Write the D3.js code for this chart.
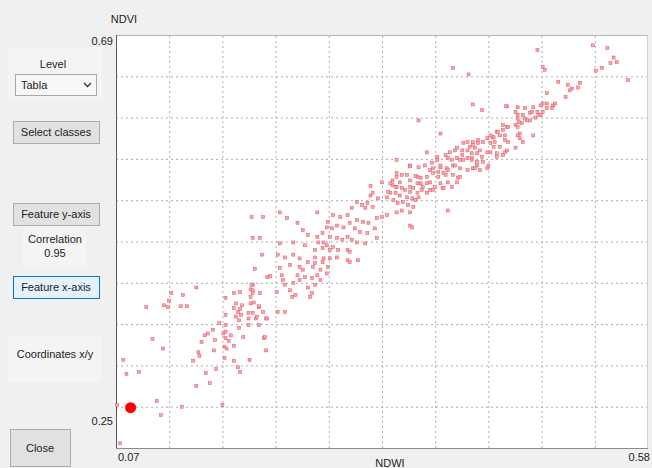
<!DOCTYPE html>
<html>
<head>
<meta charset="utf-8">
<script src="https://cdn.jsdelivr.net/npm/d3@7"></script>
<style>
  body { margin: 0; background: #f0f0f0; }
  svg { display: block; font-family: "Liberation Sans", Arial, sans-serif; }
</style>
</head>
<body>
<svg id="chart" width="652" height="468"></svg>
<script>
// axis labels and tick labels
const xLabel = "NDWI"
const yLabel = "NDVI"
const xTickLabels = ["0.07", "0.58"]
const yTickLabels = ["0.69", "0.25"]
const xDomain = [0.07, 0.58]
const yDomain = [0.25, 0.69]
const gridDivisions = 10
const correlation = "0.95"
const levelValue = "Tabla"

// selected (highlighted) point
const selected = [0.084, 0.293]

// NDWI / NDVI pairs
const points = [
  [0.147,0.421],[0.123,0.415],[0.134,0.413],[0.121,0.407],[0.099,0.400],[0.116,0.402],[0.120,0.400],
  [0.132,0.401],[0.138,0.401],[0.183,0.415],[0.189,0.416],[0.201,0.424],[0.199,0.419],[0.201,0.415],
  [0.208,0.415],[0.175,0.410],[0.185,0.404],[0.191,0.402],[0.199,0.404],[0.202,0.405],[0.207,0.400],
  [0.183,0.399],[0.187,0.395],[0.189,0.398],[0.175,0.392],[0.185,0.390],[0.190,0.392],[0.197,0.394],
  [0.201,0.394],[0.211,0.395],[0.197,0.388],[0.204,0.388],[0.214,0.388],[0.188,0.386],[0.169,0.383],
  [0.175,0.381],[0.197,0.381],[0.207,0.381],[0.188,0.378],[0.163,0.376],[0.158,0.372],[0.155,0.370],
  [0.173,0.372],[0.175,0.374],[0.180,0.370],[0.105,0.366],[0.115,0.356],[0.152,0.363],[0.165,0.365],
  [0.178,0.364],[0.175,0.367],[0.192,0.368],[0.212,0.367],[0.174,0.358],[0.176,0.356],[0.183,0.359],
  [0.164,0.354],[0.149,0.352],[0.150,0.348],[0.214,0.354],[0.144,0.343],[0.174,0.346],[0.183,0.343],
  [0.198,0.344],[0.077,0.344],[0.156,0.330],[0.166,0.334],[0.187,0.336],[0.189,0.331],[0.080,0.329],
  [0.092,0.331],[0.147,0.316],[0.160,0.319],[0.109,0.300],[0.133,0.294],[0.172,0.296],[0.113,0.285],
  [0.074,0.255],[0.071,0.296],
  [0.314,0.519],[0.321,0.516],[0.330,0.517],[0.333,0.522],[0.301,0.512],[0.306,0.509],[0.311,0.511],
  [0.316,0.507],[0.296,0.506],[0.309,0.506],[0.263,0.501],[0.278,0.498],[0.285,0.496],[0.292,0.498],
  [0.301,0.493],[0.307,0.491],[0.312,0.490],[0.320,0.495],[0.325,0.496],[0.330,0.498],[0.227,0.501],
  [0.211,0.496],[0.200,0.496],[0.244,0.490],[0.234,0.495],[0.273,0.491],[0.272,0.485],[0.277,0.484],
  [0.282,0.487],[0.288,0.485],[0.294,0.490],[0.299,0.484],[0.304,0.480],[0.311,0.479],[0.318,0.484],
  [0.352,0.487],[0.249,0.482],[0.254,0.477],[0.263,0.475],[0.268,0.479],[0.275,0.475],[0.282,0.474],
  [0.287,0.472],[0.292,0.475],[0.296,0.472],[0.301,0.469],[0.309,0.468],[0.320,0.474],[0.208,0.474],
  [0.201,0.474],[0.227,0.468],[0.225,0.456],[0.240,0.469],[0.251,0.466],[0.264,0.469],[0.269,0.469],
  [0.272,0.466],[0.278,0.464],[0.283,0.461],[0.292,0.461],[0.294,0.459],[0.261,0.461],[0.268,0.463],
  [0.275,0.461],[0.210,0.456],[0.232,0.453],[0.240,0.456],[0.246,0.452],[0.261,0.453],[0.269,0.452],
  [0.275,0.452],[0.282,0.453],[0.292,0.450],[0.294,0.448],[0.302,0.450],[0.254,0.448],[0.261,0.447],
  [0.268,0.448],[0.273,0.443],[0.227,0.442],[0.237,0.445],[0.246,0.443],[0.249,0.440],[0.259,0.443],
  [0.266,0.440],[0.263,0.434],[0.203,0.441],[0.215,0.432],[0.218,0.433],[0.229,0.434],[0.230,0.429],
  [0.232,0.424],[0.244,0.434],[0.246,0.429],[0.251,0.432],[0.258,0.431],[0.266,0.429],[0.272,0.436],
  [0.240,0.426],[0.254,0.421],[0.261,0.424],[0.200,0.424],[0.201,0.418],[0.199,0.411],[0.224,0.416],
  [0.237,0.418],[0.258,0.415],[0.256,0.411],[0.239,0.411],[0.242,0.413],[0.207,0.401],[0.225,0.395],
  [0.232,0.395],[0.205,0.390],[0.215,0.388],[0.213,0.368],
  [0.412,0.616],[0.421,0.610],[0.445,0.614],[0.455,0.613],[0.462,0.612],[0.467,0.607],[0.474,0.608],
  [0.479,0.617],[0.489,0.615],[0.483,0.612],[0.488,0.612],[0.477,0.605],[0.460,0.605],[0.455,0.605],
  [0.360,0.599],[0.445,0.592],[0.453,0.594],[0.456,0.597],[0.462,0.601],[0.467,0.599],[0.470,0.583],
  [0.457,0.585],[0.455,0.583],[0.460,0.576],[0.435,0.587],[0.438,0.583],[0.431,0.581],[0.426,0.580],
  [0.381,0.585],[0.407,0.576],[0.412,0.576],[0.417,0.575],[0.422,0.576],[0.429,0.575],[0.433,0.576],
  [0.446,0.576],[0.453,0.570],[0.397,0.570],[0.402,0.567],[0.409,0.571],[0.414,0.570],[0.419,0.567],
  [0.368,0.565],[0.390,0.565],[0.395,0.567],[0.429,0.565],[0.435,0.564],[0.441,0.562],[0.443,0.565],
  [0.378,0.560],[0.386,0.562],[0.388,0.559],[0.397,0.559],[0.403,0.557],[0.411,0.559],[0.416,0.555],
  [0.339,0.557],[0.352,0.551],[0.360,0.549],[0.366,0.551],[0.373,0.554],[0.381,0.549],[0.387,0.548],
  [0.393,0.551],[0.400,0.548],[0.407,0.546],[0.412,0.548],[0.419,0.546],[0.426,0.548],[0.349,0.541],
  [0.359,0.539],[0.368,0.539],[0.374,0.543],[0.379,0.539],[0.386,0.541],[0.398,0.538],[0.397,0.533],
  [0.339,0.539],[0.335,0.535],[0.342,0.533],[0.352,0.535],[0.362,0.532],[0.371,0.533],[0.381,0.532],
  [0.363,0.525],[0.374,0.525],[0.383,0.527],[0.335,0.530],[0.339,0.528],[0.344,0.527],[0.347,0.525],
  [0.352,0.523],[0.355,0.527],[0.359,0.522],[0.338,0.522],[0.342,0.519],[0.349,0.517],[0.354,0.516],
  [0.357,0.514],[0.360,0.517],[0.336,0.514],[0.340,0.511],[0.345,0.512],[0.350,0.509],[0.355,0.507],
  [0.344,0.503],[0.352,0.501],[0.339,0.501],[0.368,0.522],[0.388,0.503],[0.354,0.485],
  [0.474,0.674],[0.527,0.679],[0.541,0.676],[0.547,0.666],[0.550,0.661],[0.544,0.660],[0.536,0.655],
  [0.530,0.652],[0.561,0.642],[0.479,0.656],[0.481,0.653],[0.494,0.640],[0.503,0.637],[0.507,0.633],
  [0.515,0.639],[0.513,0.634],[0.505,0.631],[0.483,0.628],[0.501,0.624],[0.444,0.614],[0.470,0.613],
  [0.477,0.615],[0.483,0.617],[0.491,0.617],[0.453,0.608],[0.469,0.608],[0.472,0.602],[0.475,0.605],
  [0.479,0.608],[0.455,0.601],[0.464,0.599],[0.441,0.594],[0.446,0.592],[0.455,0.592],[0.459,0.596],
  [0.443,0.583],[0.457,0.580],
  [0.393,0.655],[0.408,0.648],[0.403,0.575],[0.412,0.573],[0.417,0.578],[0.429,0.583],[0.432,0.581],
  [0.436,0.587],[0.441,0.589],[0.443,0.578],[0.438,0.571],[0.432,0.571],[0.402,0.562],[0.407,0.567],
  [0.411,0.564],[0.416,0.564],[0.421,0.560],[0.426,0.565],[0.392,0.557],[0.395,0.551],[0.400,0.557],
  [0.407,0.559],[0.411,0.557],[0.416,0.551],[0.422,0.555],[0.427,0.551],[0.435,0.560],[0.445,0.567],
  [0.378,0.557],[0.381,0.551],[0.374,0.548],[0.379,0.544],[0.384,0.543],[0.388,0.546],[0.393,0.541],
  [0.352,0.550],[0.371,0.546],[0.400,0.539],[0.414,0.548],[0.314,0.529],[0.325,0.533],[0.339,0.543],
  [0.344,0.541],[0.357,0.540],[0.362,0.538],[0.333,0.532],[0.338,0.528],[0.352,0.528],[0.359,0.532],
  [0.364,0.528],[0.368,0.532],[0.371,0.525],[0.376,0.528],[0.384,0.527],[0.388,0.533],[0.392,0.528],
  [0.331,0.523],[0.316,0.522]
]

const svg = d3.select("#chart")
const plot = { left: 116, top: 35, right: 648, bottom: 448 }

const x = d3.scaleLinear().domain(xDomain).range([plot.left, plot.right])
const y = d3.scaleLinear().domain(yDomain).range([plot.bottom, plot.top])

const gridX = d3.range(1, gridDivisions).map(i => xDomain[0] + i * (xDomain[1] - xDomain[0]) / gridDivisions)
const gridY = d3.range(1, gridDivisions).map(i => yDomain[0] + i * (yDomain[1] - yDomain[0]) / gridDivisions)

// left control panel (plain WinForms look)
const panel = svg.append("g")

panel.append("rect").attr("x", 8).attr("y", 47).attr("width", 94).attr("height", 53)
  .attr("fill", "#f4f4f4")
panel.append("rect").attr("x", 23).attr("y", 229).attr("width", 63).attr("height", 38)
  .attr("fill", "#f4f4f4")
panel.append("rect").attr("x", 8).attr("y", 335).attr("width", 93).attr("height", 47)
  .attr("fill", "#f4f4f4")

function label(txt, cx, by, anchor) {
  panel.append("text").attr("x", cx).attr("y", by)
    .attr("text-anchor", anchor || "middle")
    .attr("font-size", 11).attr("fill", "#222")
    .text(txt)
}

function button(txt, bx, by, w, h, focused) {
  panel.append("rect").attr("x", bx + 0.5).attr("y", by + 0.5).attr("width", w).attr("height", h)
    .attr("fill", focused ? "#e5f1fb" : "#e1e1e1")
    .attr("stroke", focused ? "#0078d7" : "#adadad")
  label(txt, bx + w / 2, by + h / 2 + 4)
}

label("Level", 53, 68)
panel.append("rect").attr("x", 15.5).attr("y", 74.5).attr("width", 81).attr("height", 21)
  .attr("fill", "#f7f7f7").attr("stroke", "#a8a8a8")
label(levelValue, 21, 89, "start")
panel.append("path").attr("d", "M84,83 L87.5,86.5 L91,83")
  .attr("fill", "none").attr("stroke", "#333").attr("stroke-width", 1.4)

button("Select classes", 13, 121, 86, 22)
button("Feature y-axis", 13, 203, 86, 22)
label("Correlation", 55, 243)
label(correlation, 55, 257)
button("Feature x-axis", 13, 276, 86, 22, true)
label("Coordinates x/y", 55, 358)
button("Close", 10, 429, 60, 37)

// plot area
svg.append("rect")
  .attr("x", plot.left).attr("y", plot.top)
  .attr("width", plot.right - plot.left).attr("height", plot.bottom - plot.top)
  .attr("fill", "#fff")

// dotted grid through the axes
svg.append("g")
  .attr("transform", `translate(0,${plot.bottom})`)
  .call(d3.axisBottom(x).tickValues(gridX).tickSize(-(plot.bottom - plot.top)).tickFormat(""))
  .call(g => g.select(".domain").remove())
  .call(g => g.selectAll("line").attr("stroke", "#adadad").attr("stroke-dasharray", "2,3"))

svg.append("g")
  .attr("transform", `translate(${plot.left},0)`)
  .call(d3.axisLeft(y).tickValues(gridY).tickSize(-(plot.right - plot.left)).tickFormat(""))
  .call(g => g.select(".domain").remove())
  .call(g => g.selectAll("line").attr("stroke", "#adadad").attr("stroke-dasharray", "2,3"))

// frame
svg.append("line").attr("x1", plot.left).attr("x2", plot.right).attr("y1", plot.top + 0.5).attr("y2", plot.top + 0.5)
  .attr("stroke", "#b4b4b4")
svg.append("line").attr("x1", plot.right - 0.5).attr("x2", plot.right - 0.5).attr("y1", plot.top).attr("y2", plot.bottom)
  .attr("stroke", "#d0d0d0")
svg.append("line").attr("x1", plot.left).attr("x2", plot.right).attr("y1", plot.bottom + 0.5).attr("y2", plot.bottom + 0.5)
  .attr("stroke", "#8c8c8c")
svg.append("line").attr("x1", plot.left + 0.5).attr("x2", plot.left + 0.5).attr("y1", plot.top).attr("y2", plot.bottom)
  .attr("stroke", "#5a5a5a")

// points
svg.append("g")
  .selectAll("rect")
  .data(points)
  .join("rect")
  .attr("x", d => x(d[0]) - 1.5)
  .attr("y", d => y(d[1]) - 1.5)
  .attr("width", 3)
  .attr("height", 3)
  .attr("fill", "#f7a9b1")
  .attr("stroke", "#e4505e")
  .attr("stroke-width", 0.5)

svg.append("circle")
  .attr("cx", x(selected[0])).attr("cy", y(selected[1]))
  .attr("r", 5.5)
  .attr("fill", "#f00")

// tick labels and titles
const txt = (t, tx, ty, anchor) => svg.append("text")
  .attr("x", tx).attr("y", ty).attr("text-anchor", anchor)
  .attr("font-size", 11).attr("fill", "#222").text(t)

txt(yTickLabels[0], plot.left - 3, y(yDomain[1]) + 10, "end")
txt(yTickLabels[1], plot.left - 3, y(yDomain[0]) - 23, "end")
txt(xTickLabels[0], x(xDomain[0]) + 2, plot.bottom + 13, "start")
txt(xTickLabels[1], x(xDomain[1]) + 2, plot.bottom + 13, "end")
txt(yLabel, 124, 23, "middle")
txt(xLabel, (plot.left + plot.right) / 2 + 8, plot.bottom + 19, "middle")
</script>
</body>
</html>
